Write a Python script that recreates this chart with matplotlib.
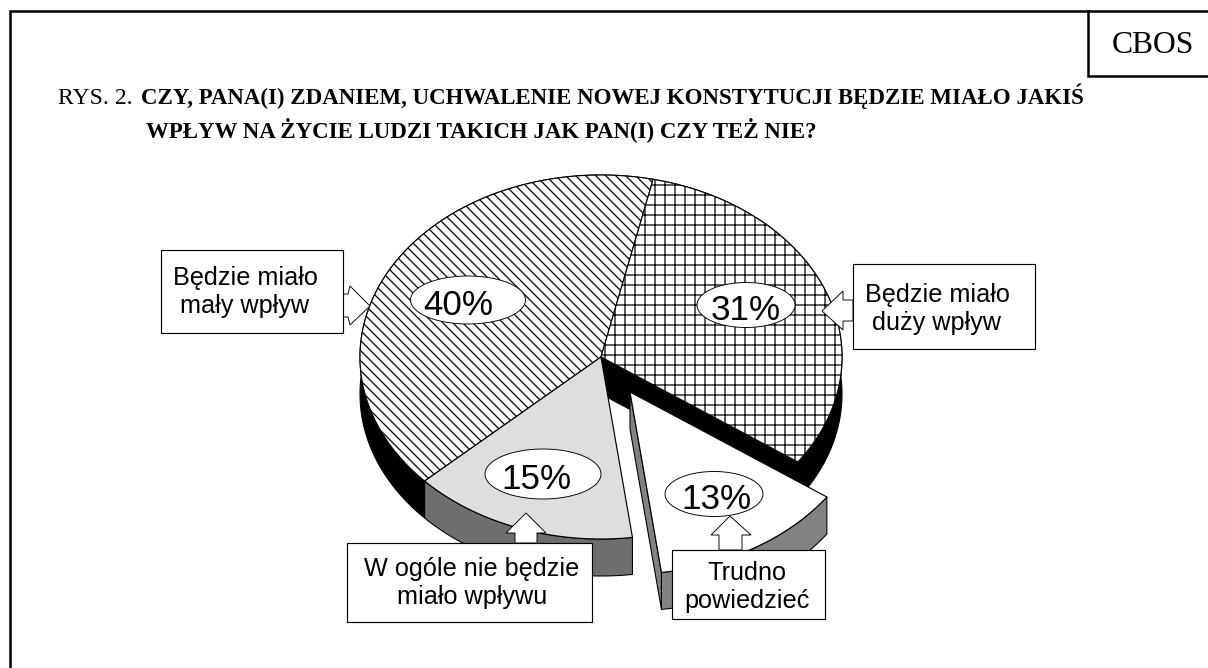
import numpy as np
import matplotlib
matplotlib.use('Agg')
import matplotlib.pyplot as plt

# slices, counter-clockwise from the top divider
slices = ['mały', 'w ogóle', 'trudno', 'duży']
values = [40, 15, 13, 31]
pct_labels = ['40%', '15%', '13%', '31%']
hatches = ['\\\\', None, None, '+']
top_colors = ['white', '#dedede', 'white', 'white']
side_colors = ['black', '#6e6e6e', '#828282', 'black']
explode = [(0, 0), (0, 0), (29, 35), (0, 0)]
pct_xy = [(468, 300), (543, 474), (714, 494), (746, 305)]
pct_size = [(115, 48), (116, 50), (98, 45), (98, 45)]
pct_text_x = [458, 536, 716, 746]

title_left = 'RYS. 2.'
title_1 = 'CZY, PANA(I) ZDANIEM, UCHWALENIE NOWEJ KONSTYTUCJI BĘDZIE MIAŁO JAKIŚ'
title_2 = 'WPŁYW NA ŻYCIE LUDZI TAKICH JAK PAN(I) CZY TEŻ NIE?'

# box, text centre, arrow outline (picture pixels)
callouts = [
    ('Będzie miało\nmały wpływ', (160.5, 250, 343, 333), (245, 292),
     [(343, 294), (348, 294), (350, 286), (370, 306), (350, 325), (348, 317), (343, 317)]),
    ('Będzie miało\nduży wpływ', (853, 264, 1035, 349), (937, 309),
     [(853, 300), (843, 300), (843, 291), (822, 311), (843, 330), (843, 321), (853, 321)]),
    ('W ogóle nie będzie\nmiało wpływu', (347, 543, 592, 622), (472, 583),
     [(515, 543), (515, 533), (506, 533), (526, 513), (546, 533), (537, 533), (537, 543)]),
    ('Trudno\npowiedzieć', (672, 550, 825, 619), (747, 587),
     [(719, 550), (719, 535), (711, 535), (730, 516), (751, 535), (742, 535), (742, 550)]),
]

W, H, DPI = 1208, 668, 60
cx, cy, rx, ry, depth = 601, 357, 241, 182, 37
start = 77.5

plt.rcParams['hatch.linewidth'] = 1.5
fig = plt.figure(figsize=(W / DPI, H / DPI), dpi=DPI)
ax = fig.add_axes([0, 0, 1, 1])
ax.set_xlim(0, W)
ax.set_ylim(H, 0)
ax.axis('off')

edges = start + np.cumsum([0] + values) * 360.0 / sum(values)


def arc(a, b, dx=0, dy=0):
    t = np.radians(np.linspace(a, b, 150))
    return cx + dx + rx * np.cos(t), cy + dy - ry * np.sin(t)


def draw_side(i, z):
    dx, dy = explode[i]
    x, y = arc(edges[i], edges[i + 1], dx, dy)
    ax.fill(np.r_[x, x[::-1]], np.r_[y, y[::-1] + depth], fc=side_colors[i],
            ec='black', lw=1.3, zorder=z)


def draw_top(i, z):
    dx, dy = explode[i]
    x, y = arc(edges[i], edges[i + 1], dx, dy)
    ax.fill(np.r_[cx + dx, x], np.r_[cy + dy, y], fc=top_colors[i], ec='black',
            lw=1.4, hatch=hatches[i], zorder=z)


def draw_wall(angle, i, z):
    # inner wall from the centre out to the rim, seen where a slice was pulled out
    dx, dy = explode[i]
    x, y = arc(angle, angle, dx, dy)
    xs = [cx + dx, x[0], x[0], cx + dx]
    ys = [cy + dy, y[0], y[0] + depth, cy + dy + depth]
    ax.fill(xs, ys, fc=side_colors[i], ec='black', lw=1.3, zorder=z)


# back of the pie
draw_side(0, 1)
draw_side(3, 1)
draw_wall(edges[3], 3, 2)
draw_side(1, 3)
draw_top(0, 4)
draw_top(3, 4)
draw_top(1, 4)
# pulled-out slice
draw_wall(edges[2], 2, 5)
draw_side(2, 5)
draw_top(2, 6)

for (x, y), (w, h), lab, tx in zip(pct_xy, pct_size, pct_labels, pct_text_x):
    t = np.linspace(0, 2 * np.pi, 100)
    ax.fill(x + w / 2 * np.cos(t), y + h / 2 * np.sin(t), fc='white', ec='black',
            lw=1.1, zorder=7)
    ax.text(tx, y + 2, lab, ha='center', va='center_baseline', fontsize=42,
            family='Liberation Sans', zorder=8)

for text, (x0, y0, x1, y1), (tx, ty), arrow in callouts:
    ax.fill(*zip(*arrow), fc='white', ec='black', lw=1.1, zorder=9)
    ax.fill([x0, x1, x1, x0], [y0, y0, y1, y1], fc='white', ec='black', lw=1.4, zorder=10)
    ax.text(tx, ty, text, ha='center', va='center', fontsize=30.3, linespacing=1.22,
            family='Liberation Sans', zorder=11)

# frame, open on the right and at the bottom
ax.plot([10, 10, W], [H, 11, 11], color='black', lw=3, solid_joinstyle='miter')
ax.plot([1088, 1088, W], [11, 76, 76], color='black', lw=3, solid_joinstyle='miter')
ax.text(1153, 53, 'CBOS', ha='center', va='baseline', fontsize=38, family='Liberation Serif')

ax.text(58, 104, title_left, ha='left', va='baseline', fontsize=28.5, family='Liberation Serif')
ax.text(141, 104, title_1, ha='left', va='baseline', fontsize=27.4, fontweight='bold',
        family='Liberation Serif')
ax.text(146, 137, title_2, ha='left', va='baseline', fontsize=27.4, fontweight='bold',
        family='Liberation Serif')

fig.savefig('out.png', dpi=DPI, facecolor='white')
